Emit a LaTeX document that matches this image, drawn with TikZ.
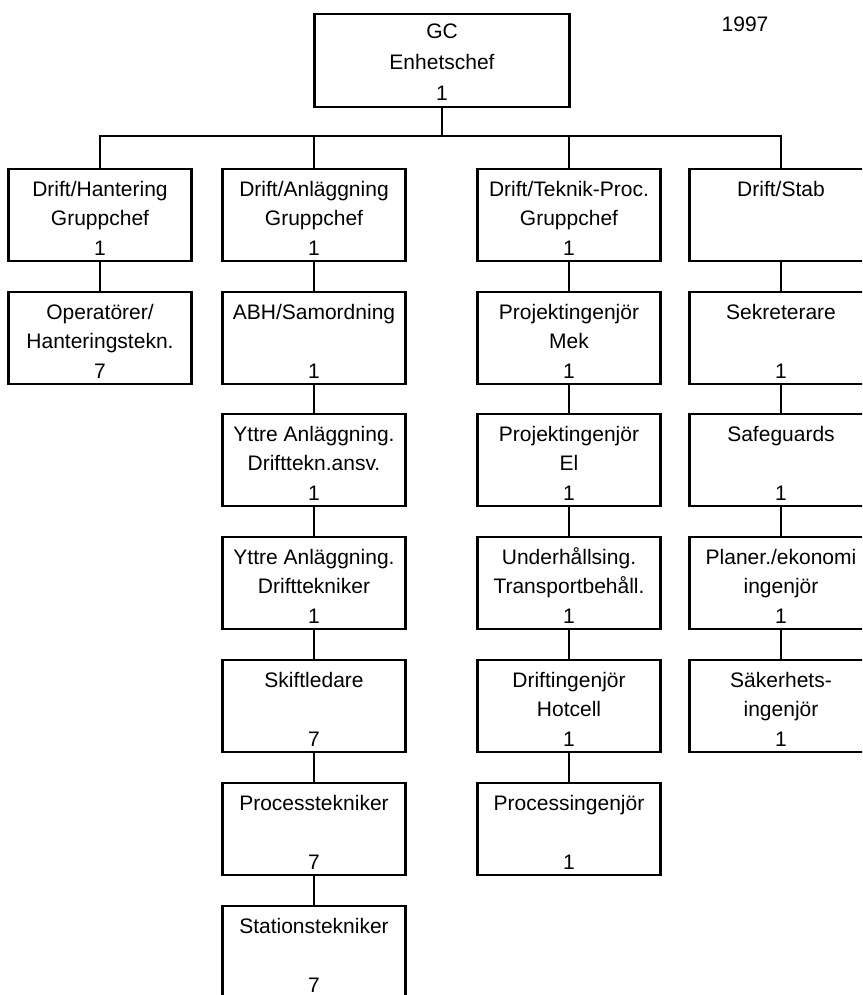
\documentclass[tikz,border=0pt]{standalone}
\usepackage{fontspec}
\setmainfont{Liberation Sans}
\begin{document}
\begin{tikzpicture}[x=1pt,y=-1pt,
  cbox/.style={draw=black, line width=2.9pt, minimum width=183pt, minimum height=92pt,
               inner sep=0pt, outer sep=0pt, anchor=north},
  ctext/.style={anchor=base, inner sep=0pt, font=\fontsize{21}{24}\selectfont},
  conn/.style={draw=black, line width=2.4pt, line cap=rect}]

\useasboundingbox (0,0) rectangle (862,995);
\clip (0,0) rectangle (862,995);

% a box with three fixed text lines: name, centre x, top y, line 1, line 2, line 3
\newcommand\chartbox[6]{%
  \node[cbox] (#1) at (#2,#3) {};
  \node[ctext] (#1-a) at ([yshift=-27.5pt]#1.north) {#4};
  \node[ctext] (#1-b) at ([yshift=-56pt]#1.north) {#5};
  \node[ctext] (#1-c) at ([yshift=-86pt]#1.north) {#6};
}

% head of unit
\node[cbox, minimum width=255pt, minimum height=93pt] (gc) at (442,14) {};
\node[ctext] (gc-a) at ([yshift=-25pt]gc.north) {GC};
\node[ctext] (gc-b) at ([yshift=-56pt]gc.north) {Enhetschef};
\node[ctext] (gc-c) at ([yshift=-87pt]gc.north) {1};
\node[ctext] (year) at (745,32) {1997};

% column 1
\chartbox{h1}{100}{169}{Drift/Hantering}{Gruppchef}{1}
\chartbox{h2}{100}{292}{Operatörer/}{Hanteringstekn.}{7}

% column 2
\chartbox{a1}{314}{169}{Drift/Anläggning}{Gruppchef}{1}
\chartbox{a2}{314}{292}{ABH/Samordning}{}{1}
\chartbox{a3}{314}{414}{Yttre Anläggning.}{Drifttekn.ansv.}{1}
\chartbox{a4}{314}{537}{Yttre Anläggning.}{Drifttekniker}{1}
\chartbox{a5}{314}{660}{Skiftledare}{}{7}
\chartbox{a6}{314}{783}{Processtekniker}{}{7}
\chartbox{a7}{314}{906}{Stationstekniker}{}{7}

% column 3
\chartbox{t1}{569}{169}{Drift/Teknik-Proc.}{Gruppchef}{1}
\chartbox{t2}{569}{292}{Projektingenjör}{Mek}{1}
\chartbox{t3}{569}{414}{Projektingenjör}{El}{1}
\chartbox{t4}{569}{537}{Underhållsing.}{Transportbehåll.}{1}
\chartbox{t5}{569}{660}{Driftingenjör}{Hotcell}{1}
\chartbox{t6}{569}{783}{Processingenjör}{}{1}

% column 4
\chartbox{s1}{781}{169}{Drift/Stab}{}{}
\chartbox{s2}{781}{292}{Sekreterare}{}{1}
\chartbox{s3}{781}{414}{Safeguards}{}{1}
\chartbox{s4}{781}{537}{Planer./ekonomi}{ingenjör}{1}
\chartbox{s5}{781}{660}{Säkerhets-}{ingenjör}{1}

% distribution bus
\coordinate (bus) at (442,136);
\draw[conn] (gc.south) -- (bus);
\draw[conn] (h1.north) -- (h1.north |- bus) -- (s1.north |- bus) -- (s1.north);
\draw[conn] (a1.north) -- (a1.north |- bus);
\draw[conn] (t1.north) -- (t1.north |- bus);

% vertical chains
\draw[conn] (h1.south) -- (h2.north);
\draw[conn] (a1.south) -- (a2.north);
\draw[conn] (a2.south) -- (a3.north);
\draw[conn] (a3.south) -- (a4.north);
\draw[conn] (a4.south) -- (a5.north);
\draw[conn] (a5.south) -- (a6.north);
\draw[conn] (a6.south) -- (a7.north);
\draw[conn] (t1.south) -- (t2.north);
\draw[conn] (t2.south) -- (t3.north);
\draw[conn] (t3.south) -- (t4.north);
\draw[conn] (t4.south) -- (t5.north);
\draw[conn] (t5.south) -- (t6.north);
\draw[conn] (s1.south) -- (s2.north);
\draw[conn] (s2.south) -- (s3.north);
\draw[conn] (s3.south) -- (s4.north);
\draw[conn] (s4.south) -- (s5.north);
\end{tikzpicture}
\end{document}
